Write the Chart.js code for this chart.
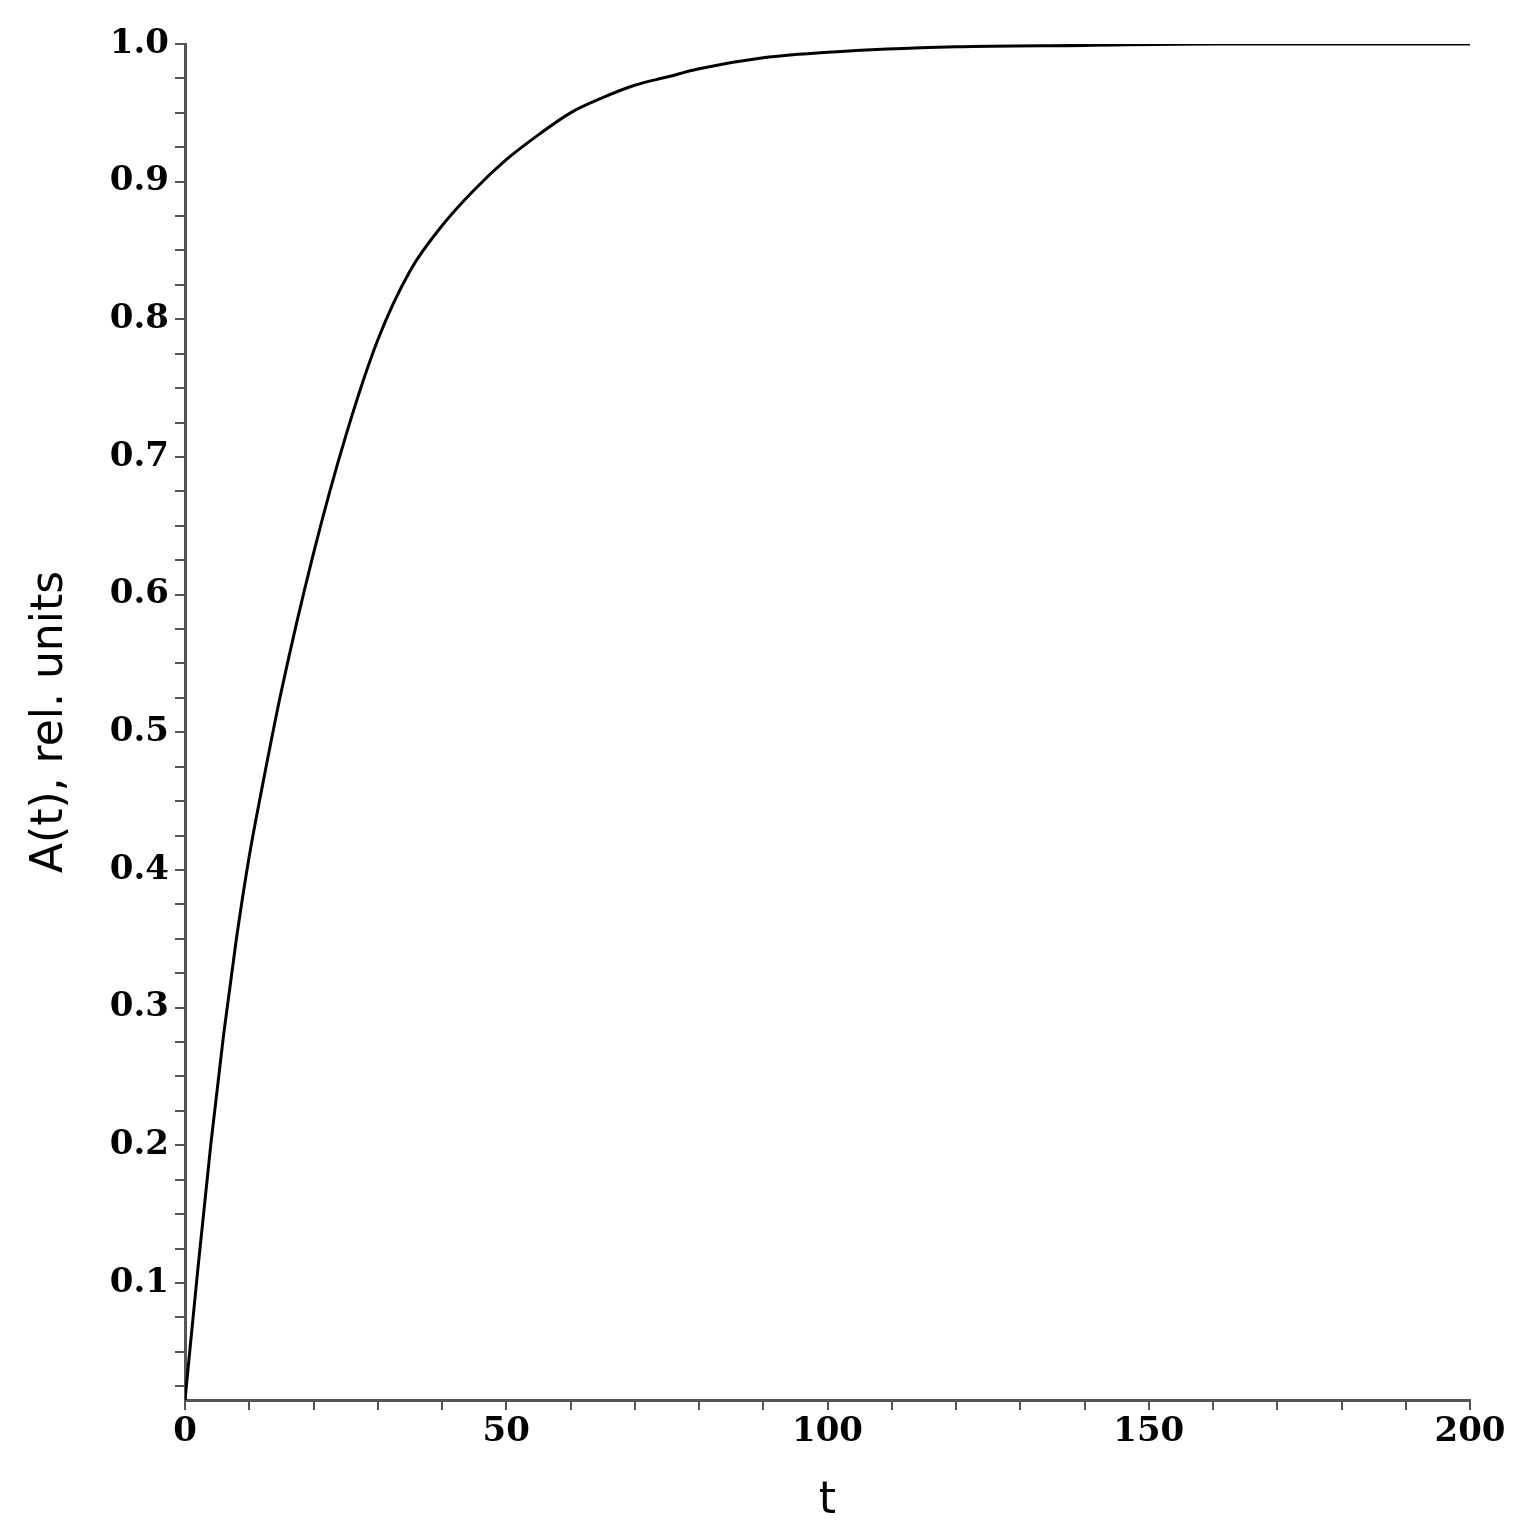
<!DOCTYPE html>
<html><head><meta charset="utf-8">
<script src="https://cdn.jsdelivr.net/npm/chart.js@4"></script>
<style>html,body{margin:0;padding:0;background:#fff}#w{width:1526px;height:1532px}</style>
</head><body><div id="w"><canvas id="c"></canvas></div>
<script>
const tValues = [0,2,4,6,8,10,12,15,20,25,30,35,40,45,50,55,60,65,70,75,80,90,100,120,140,160,180,200];
const aValues = [0.015,0.11,0.2,0.28,0.35,0.41,0.46,0.53,0.63,0.715,0.785,0.835,0.868,0.894,0.916,0.934,0.95,0.961,0.97,0.976,0.982,0.99,0.994,0.998,0.999,1.0,1.0,1.0];
const xMajor = [0,50,100,150,200];
const yMajor = [0.1,0.2,0.3,0.4,0.5,0.6,0.7,0.8,0.9,1.0];
const tickFont = {family:'DejaVu Serif', weight:'bold', size:34};
new Chart(document.getElementById('c'), {
  type:'line',
  data:{datasets:[{data:tValues.map((t,i)=>({x:t,y:aValues[i]})),borderColor:'#000',borderWidth:3,pointRadius:0,cubicInterpolationMode:'monotone',fill:false}]},
  options:{
    responsive:true, maintainAspectRatio:false, animation:false,
    layout:{padding:{top:44,right:56,left:20,bottom:0}},
    plugins:{legend:{display:false},tooltip:{enabled:false}},
    scales:{
      x:{type:'linear',min:0,max:200,
        afterBuildTicks:s=>{s.ticks=[];for(let v=0;v<=200;v+=10)s.ticks.push({value:v});},
        afterFit:s=>{s.height=132;},
        ticks:{autoSkip:false,maxRotation:0,color:'#000',font:tickFont,padding:2,callback:v=>xMajor.includes(v)?String(v):''},
        grid:{drawOnChartArea:false,color:'#555',tickLength:10,lineWidth:2},
        border:{color:'#555',width:3},
        title:{display:true,text:'t',color:'#000',font:{family:'DejaVu Sans',size:44},padding:{top:0}}
      },
      y:{type:'linear',min:0.015,max:1.0,
        afterBuildTicks:s=>{s.ticks=[];for(let k=1;k<=40;k++)s.ticks.push({value:k*0.025});},
        afterFit:s=>{s.width=165;},
        ticks:{autoSkip:false,color:'#000',font:tickFont,padding:6,callback:v=>{const r=Math.round(v*40);return r%4===0?(v).toFixed(1):'';}},
        grid:{drawOnChartArea:false,color:'#555',tickLength:10,lineWidth:2},
        border:{color:'#555',width:3},
        title:{display:true,text:'A(t), rel. units',color:'#000',font:{family:'DejaVu Sans',size:44},padding:{bottom:4}}
      }
    }
  }
});
</script></body></html>
